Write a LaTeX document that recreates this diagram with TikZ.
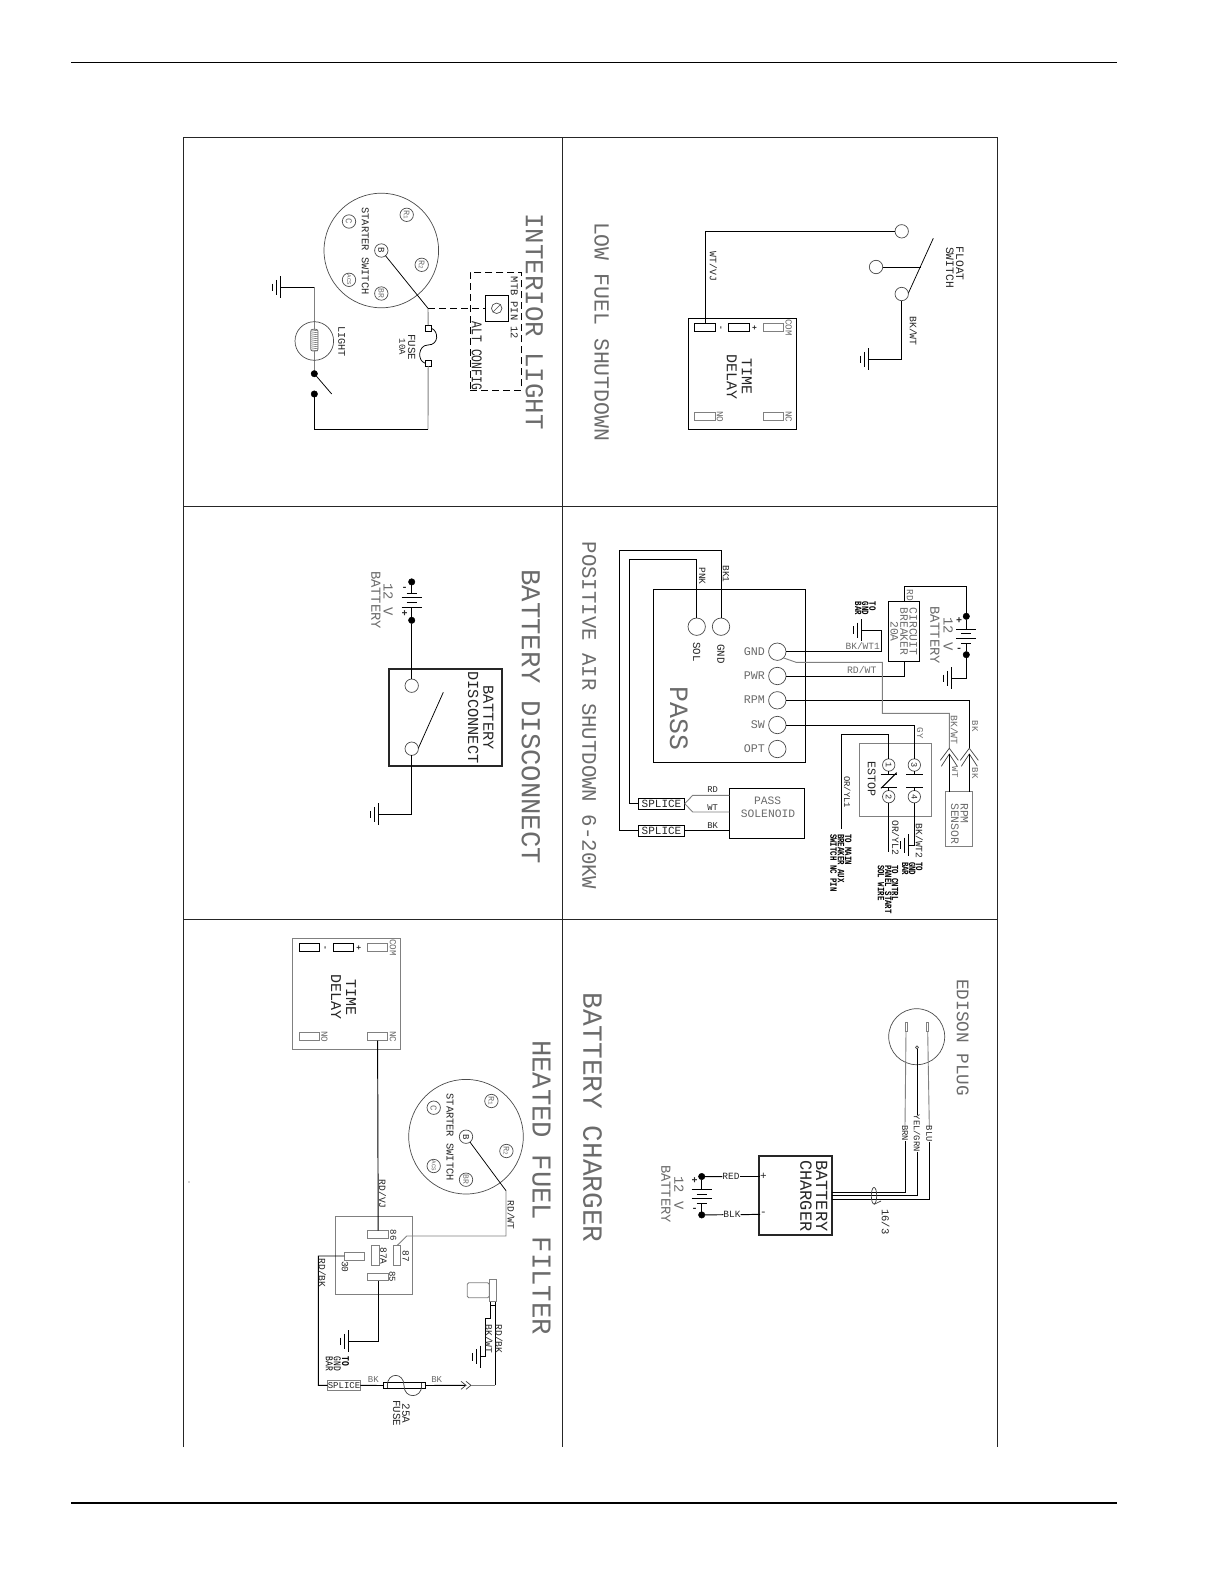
\documentclass[tikz,border=0pt]{standalone}
\usepackage{graphicx}
\usepackage{fontspec}
\setmainfont{Liberation Mono}
\usetikzlibrary{calc,shapes.geometric}
\colorlet{gw}{black!50}
\colorlet{tgray}{black!58}
\tikzset{
 x=1pt,y=-1pt,
 wire/.style={draw=black,line width=0.95pt},
 gwire/.style={draw=gw,line width=0.9pt},
 thinw/.style={draw=black!75,line width=0.7pt},
 dashwire/.style={draw=black,line width=0.95pt,dash pattern=on 7pt off 4pt},
 frameline/.style={draw=black!85,line width=1.1pt},
 rule/.style={draw=black,line width=1.7pt},
 vtxt/.style={rotate=-90,inner sep=0pt,outer sep=0pt,text depth=0pt},
 htxt/.style={inner sep=0pt,outer sep=0pt,text depth=0pt},
 term/.style={draw=black!70,circle,inner sep=0pt,outer sep=0pt,line width=0.7pt,fill=white},
 dotn/.style={draw=black,fill=black,circle,inner sep=0pt,outer sep=0pt,minimum size=6.5pt},
 boxn/.style={draw=black,rectangle,inner sep=0pt,outer sep=0pt,line width=0.95pt},
 gbox/.style={boxn,draw=gw,line width=0.85pt},
 tbox/.style={boxn,line width=1.7pt,draw=black!85},
}
\newcommand\FS[1]{\fontsize{#1}{#1}\selectfont}
\newcommand\TALL[1]{\scalebox{1}[1.3]{#1}}
% \VT[color]{name}{x}{y}{size}{text}: text reading downward
\newcommand\VT[6][black!85]{\node[vtxt,text=#1,font=\FS{#5}] (#2) at (#3,#4) {#6};}
\newcommand\HT[6][black!85]{\node[htxt,text=#1,font=\FS{#5}] (#2) at (#3,#4) {#6};}
\newcommand\BOX[6][boxn]{\node[#1,minimum width={((#5)-(#3))*1pt},minimum height={((#6)-(#4))*1pt}] (#2) at ({((#3)+(#5))/2},{((#4)+(#6))/2}) {};}
\newcommand\TERM[4]{\node[term,minimum size={2*(#4)*1pt}] (#1) at (#2,#3) {};}
\newcommand\GND[3]{\coordinate (#1) at (#2,#3);
 \draw[wire] ($(#1)+(0,-11)$) -- ($(#1)+(0,11)$);
 \draw[wire] ($(#1)+(-3.7,-7.5)$) -- ($(#1)+(-3.7,7.5)$);
 \draw[wire] ($(#1)+(-7.4,-3.8)$) -- ($(#1)+(-7.4,3.8)$);}
% \BATT{name}{x}{y of plus dot}{direction}
\newcommand\BATT[4]{
 \node[dotn] (#1p) at (#2,#3) {};
 \node[dotn] (#1m) at (#2,{#3+(#4)*38.4}) {};
 \coordinate (#1a) at (#2,{#3+(#4)*12.7});
 \coordinate (#1b) at (#2,{#3+(#4)*17.5});
 \coordinate (#1c) at (#2,{#3+(#4)*22.4});
 \coordinate (#1d) at (#2,{#3+(#4)*27});
 \draw[wire] (#1p) -- (#1a); \draw[wire] (#1m) -- (#1d);
 \draw[wire] ($(#1a)+(-10,0)$) -- ($(#1a)+(10,0)$);
 \draw[wire] ($(#1b)+(-5,0)$) -- ($(#1b)+(5,0)$);
 \draw[wire] ($(#1c)+(-10,0)$) -- ($(#1c)+(10,0)$);
 \draw[wire] ($(#1d)+(-5,0)$) -- ($(#1d)+(5,0)$);
 \HT{#1plus}{#2-7.2}{{#3+(#4)*(5.65-(#4)*1.35)}}{10}{\bfseries +}
 \HT{#1minus}{#2-7.2}{{#3+(#4)*(32.35+(#4)*1.35)}}{10}{\bfseries -}
}
\newcommand\STARTER[3]{
 \node[term,fill=none,minimum size=114.6pt] (#1big) at (#2,#3) {};
 \TERM{#1B}{#2}{#3}{6.7}\VT{#1Bt}{#2}{#3}{9}{B}
 \TERM{#1R1}{#2+25.4}{#3-35.7}{6.7}\VT[tgray]{#1R1t}{#2+25.4}{#3-35.7}{8.5}{R\FS{6}1}
 \TERM{#1R2}{#2+40.4}{#3+14.3}{6.7}\VT[tgray]{#1R2t}{#2+40.4}{#3+14.3}{8.5}{R\FS{6}2}
 \TERM{#1BR}{#2}{#3+43}{6.7}\VT[tgray]{#1BRt}{#2}{#3+43}{8}{BR}
 \TERM{#1A}{#2-32.3}{#3+29.3}{6.7}\VT[tgray]{#1At}{#2-32.3}{#3+29.3}{5.8}{ACS}
 \TERM{#1C}{#2-32.3}{#3-29}{6.7}\VT[tgray]{#1Ct}{#2-32.3}{#3-29}{9}{C}
 \VT{#1st}{#2-16}{#3+0.5}{10.4}{STARTER SWITCH}
}
% \TDELAY{name}{x}{y}{box style}
\newcommand\TDELAY[4]{
 \BOX[#4]{#1box}{#2}{#3}{#2+108}{#3+111}
 \BOX{#1neg}{#2+6.6}{#3+5.2}{#2+27}{#3+13.4}
 \BOX{#1pos}{#2+40.6}{#3+5.2}{#2+61}{#3+13.4}
 \BOX[gbox]{#1com}{#2+74.8}{#3+5.2}{#2+95}{#3+13.4}
 \BOX[gbox]{#1no}{#2+6.6}{#3+94.2}{#2+27}{#3+102.4}
 \BOX[gbox]{#1nc}{#2+74.8}{#3+94.2}{#2+95}{#3+102.4}
 \VT{#1l1}{#2+31.8}{#3+9.3}{8}{\bfseries -}
 \VT{#1l2}{#2+65.8}{#3+9.3}{8}{\bfseries +}
 \VT[tgray]{#1l3}{#2+100.3}{#3+9.3}{9.3}{COM}
 \VT[tgray]{#1l4}{#2+31.8}{#3+98.3}{9.3}{NO}
 \VT[tgray]{#1l5}{#2+100.3}{#3+98.3}{9.3}{NC}
 \VT{#1l6}{#2+58.4}{#3+58.7}{15}{TIME}
 \VT{#1l7}{#2+43.4}{#3+58.7}{15}{DELAY}
}
\newcommand\CHEV[3]{
 \draw[thinw] ($(#1,#2)+(-9,12)$) -- (#1,#2) -- ($(#1,#2)+(9,12)$);
 \draw[thinw] ($(#1,#2)+(-8,18)$) -- (#1,#2+#3) -- ($(#1,#2)+(8,18)$);}
\begin{document}
\begin{tikzpicture}
\useasboundingbox[fill=white] (0,0) rectangle (1224,1584);
% ---- page rules and frame
\coordinate (ruleTa) at (71,62.5); \coordinate (ruleTb) at (1117,62.5);
\coordinate (ruleBa) at (71,1503); \coordinate (ruleBb) at (1117,1503);
\draw[rule] (ruleTa) -- (ruleTb);
\draw[rule] (ruleBa) -- (ruleBb);
\coordinate (fA) at (183.5,1447); \coordinate (fB) at (183.5,137.5);
\coordinate (fC) at (997.5,137.5); \coordinate (fD) at (997.5,1447);
\draw[frameline] (fA) -- (fB) -- (fC) -- (fD);
\coordinate (fE) at (562.5,137.5); \coordinate (fF) at (562.5,1447);
\draw[frameline] (fE) -- (fF);
\coordinate (fG) at (183.5,506.5); \coordinate (fH) at (997.5,506.5);
\coordinate (fI) at (183.5,919.5); \coordinate (fJ) at (997.5,919.5);
\draw[frameline] (fG) -- (fH);
\draw[frameline] (fI) -- (fJ);
\node[circle,fill=black!70,inner sep=0pt,minimum size=1.3pt] (speck) at (189,1182) {};

% ---- INTERIOR LIGHT
\VT[tgray]{ilT}{534.5}{321.5}{25.8}{INTERIOR LIGHT}
\STARTER{ils}{381.3}{250.5}
\coordinate (ilj) at (428,308.3);
\draw[wire,line width=0.75pt] (ilsB) -- (ilj);
\BOX{ilfa}{425.2}{325.2}{431.2}{331.2}
\BOX{ilfb}{425.2}{360.2}{431.2}{366.2}
\draw[wire,line width=0.75pt] (ilfa.east) .. controls (439,331) and (439,345) .. (428,345) .. controls (418,345) and (417,361) .. (ilfb.west);
\draw[gwire] (ilj) -- (ilfa.north);
\coordinate (ilc) at (428,429.3);
\draw[gwire] (ilfb.south) -- (ilc);
\node[dotn] (ild1) at (314.3,373.7) {};
\node[dotn] (ild2) at (314.3,394) {};
\draw[wire] (ilc) -| (ild2);
\coordinate (ilsw) at (331.7,394);
\draw[wire,line width=0.75pt] (ild1) -- (ilsw);
\GND{ilg}{280}{287.3}
\coordinate (ilk) at (314.3,287.3);
\draw[gwire] (ild1) -- (ilk);
\draw[wire] (ilk) -- (ilg);
\node[term,fill=none,minimum size=38.6pt] (illamp) at (314.3,341) {};
\draw[black!60,line width=0.7pt,rounded corners=2pt,fill=white] (310.7,329.3) rectangle (318,351);
\foreach \i in {0,...,10}{\draw[black!60,line width=0.55pt] (310.9,{329.8+\i*2}) -- (317.8,{330.8+\i*2});}
\VT{ilL}{341.7}{341.3}{10.2}{LIGHT}
\VT{ilF1}{411.7}{347}{10.8}{FUSE}
\VT{ilF2}{402.3}{347}{9}{10A}
\BOX{ilmtb}{485.3}{295.3}{508.3}{321.3}
\node[term,minimum size=10.5pt] (ilscrew) at (496.7,308.3) {};
\draw[black!70,line width=0.6pt] (ilscrew.south west) -- (ilscrew.north east);
\draw[dashwire] (ilj) -- (ilmtb.west);
\BOX[boxn,dash pattern=on 7pt off 4pt]{ildash}{470.3}{272.3}{521.3}{390.3}
\VT{ilM}{514.3}{308}{10.4}{MTB PIN 12}
\VT{ilA}{476.8}{356}{11.4}{\TALL{ALT CONFIG}}

% ---- LOW FUEL SHUTDOWN
\VT[tgray]{lfT}{601.7}{331.7}{21.5}{LOW FUEL SHUTDOWN}
\TDELAY{lf}{688.3}{318.3}{boxn}
\TERM{lfc1}{901.7}{231.3}{6.7}
\TERM{lfc2}{876}{267}{6.7}
\TERM{lfc3}{901.7}{294}{6.7}
\draw[wire] (lfneg.north) |- (lfc1.west);
\coordinate (lfsa) at (908.3,293.3); \coordinate (lfsb) at (933.3,238.3); \coordinate (lfsc) at (920.7,267);
\draw[wire,line width=0.75pt] (lfsa) -- (lfsb);
\draw[wire] (lfc2.east) -- (lfsc);
\GND{lfg}{868.3}{359.3}
\draw[wire] (lfc3.south) |- (lfg);
\VT{lfW}{713.3}{266.7}{9.8}{WT/VJ}
\VT{lfB}{913.3}{331}{9.8}{BK/WT}
\VT{lfF1}{960}{263.7}{11.3}{FLOAT}
\VT{lfF2}{950}{267.5}{11.3}{SWITCH}

% ---- BATTERY DISCONNECT
\VT[tgray]{bdT}{531}{716.7}{27.3}{BATTERY DISCONNECT}
\BATT{bdb}{411.7}{620.3}{-1}
\BOX[tbox]{bdbox}{389}{668.7}{502}{766}
\TERM{bdc1}{411.7}{685.7}{6.7}
\TERM{bdc2}{411.7}{748.7}{6.7}
\draw[wire] (bdbp) -- (bdc1.north);
\coordinate (bdsa) at (418.3,748.3); \coordinate (bdsb) at (443.3,692.3);
\draw[wire,line width=0.75pt] (bdsa) -- (bdsb);
\GND{bdg}{378.3}{814.3}
\draw[wire] (bdc2.south) |- (bdg);
\VT[tgray]{bdV}{388.3}{599.7}{13.8}{12 V}
\VT[tgray]{bdB}{376}{600}{13.8}{BATTERY}
\VT{bdI1}{488.3}{717.5}{15.3}{BATTERY}
\VT{bdI2}{473.3}{717.5}{15.3}{DISCONNECT}

% ---- POSITIVE AIR SHUTDOWN
\VT[tgray]{paT}{589.3}{715.5}{20.7}{POSITIVE AIR SHUTDOWN 6-20KW}
\BOX{papass}{653.3}{589.3}{805.3}{762}
\VT[tgray]{paP}{679}{718.3}{26.5}{PASS}
\TERM{paSOL}{696.7}{626.7}{8.7}
\TERM{paGN}{721}{626.7}{8.7}
\VT{paSt}{696.7}{652}{10.8}{SOL}
\VT{paGt}{721}{654}{10.8}{GND}
\VT{paPn}{702.3}{576}{9.5}{PNK}
\VT{paBk}{726}{574}{9.5}{BK1}
\TERM{pa1}{777.3}{651.7}{8.7}
\TERM{pa2}{777.3}{676}{8.7}
\TERM{pa3}{777.3}{700.3}{8.7}
\TERM{pa4}{777.3}{725}{8.7}
\TERM{pa5}{777.3}{749}{8.7}
\node[htxt,anchor=east,text=tgray,font=\FS{11.7}] (pat1) at (765,651.5) {GND};
\node[htxt,anchor=east,text=tgray,font=\FS{11.7}] (pat2) at (765,676) {PWR};
\node[htxt,anchor=east,text=tgray,font=\FS{11.7}] (pat3) at (765,700) {RPM};
\node[htxt,anchor=east,text=tgray,font=\FS{11.7}] (pat4) at (765,725) {SW};
\node[htxt,anchor=east,text=tgray,font=\FS{11.7}] (pat5) at (765,749) {OPT};
\BOX{pasp1}{638.3}{798}{684.7}{809.3}
\BOX{pasp2}{638.3}{825}{684.7}{836}
\HT{pasp1t}{661.5}{803.7}{11}{SPLICE}
\HT{pasp2t}{661.5}{830.5}{11}{SPLICE}
\BOX{pasol}{729.3}{788.3}{804.3}{838.3}
\HT[tgray]{paSa}{767.7}{801}{11.3}{PASS}
\HT[tgray]{paSb}{768}{813.3}{11.3}{SOLENOID}
\coordinate (paa) at (721,550.7); \coordinate (pab) at (619.3,550.7);
\draw[wire] (paGN.north) -- (paa) -- (pab) |- (pasp2.west);
\coordinate (pac) at (696.7,559.3); \coordinate (pad) at (629.3,559.3);
\draw[wire] (paSOL.north) -- (pac) -- (pad) |- (pasp1.west);
\coordinate (pae) at (692.7,795.3); \coordinate (paf) at (692.7,812);
\coordinate (pag) at (729.3,795.3); \coordinate (pah) at (729.3,812);
\draw[gwire] (pasp1.east) -- (pae) -- (pag);
\draw[gwire] (pasp1.east) -- (paf) -- (pah);
\draw[wire] (pasp2.east) -- (pasp2.east -| pasol.west);
\HT{paRD}{712.7}{790}{8.8}{RD}
\HT{paWT}{712.7}{807.7}{8.8}{WT}
\HT{paBK}{712.7}{825.3}{8.8}{BK}
% breaker, battery
\BOX{pacb}{888.7}{601.3}{919.3}{661.3}
\VT[tgray]{pacb1}{913.3}{631.5}{11.3}{CIRCUIT}
\VT[tgray]{pacb2}{904}{631.5}{11.3}{BREAKER}
\VT[tgray]{pacb3}{894.3}{631.5}{11.3}{20A}
\VT[tgray]{paRDl}{910}{595}{9.5}{RD}
\BATT{pbt}{966.3}{616.3}{1}
\VT[tgray]{paV}{948.3}{634}{13.8}{12 V}
\VT[tgray]{paBa}{935}{635}{13.8}{BATTERY}
\coordinate (pai) at (904.3,586.3); \coordinate (paj) at (966.3,586.3);
\draw[wire] (pacb.north -| pai) -- (pai) -- (paj) -- (pbtp);
\GND{pag1}{951}{678.3}
\draw[wire] (pbtm) |- (pag1);
\coordinate (pak) at (881.7,651.7); \coordinate (pal) at (881.7,630);
\GND{pag2}{861}{630}
\draw[wire] (pa1.east) -- (pak) -- (pal) -- (pag2);
\HT[tgray]{paBW}{862.7}{646.3}{9.5}{BK/WT1}
\node[vtxt,anchor=west,font=\FS{7.4}\bfseries] (pato1) at (872.7,601.7) {\TALL{TO}};
\node[vtxt,anchor=west,font=\FS{7.4}\bfseries] (pato2) at (865.3,601.7) {\TALL{GND}};
\node[vtxt,anchor=west,font=\FS{7.4}\bfseries] (pato3) at (858.3,601.7) {\TALL{BAR}};
\coordinate (pam) at (904.3,676);
\draw[wire] (pa2.east) -- (pam) -- (pam |- pacb.south);
\HT[tgray]{paRW}{861.7}{670.3}{9.8}{RD/WT}
\coordinate (pan) at (969.3,700.3);
\draw[wire] (pa3.east) -- (pan) -- (969.3,748.3);
\coordinate (pao) at (796,662.3); \coordinate (pap) at (882.3,662.3);
\coordinate (paq) at (882.3,713.3); \coordinate (par) at (949.3,713.3);
\draw[gwire] (pa1.south east) -- (pao) -- (pap) -- (paq) -- (par) -- (949.3,748.3);
\CHEV{949.3}{748.3}{5.7}
\CHEV{969.3}{748.3}{5.7}
\VT[tgray]{pal1}{954.3}{730}{9.8}{BK/WT}
\VT[tgray]{pal2}{975}{726}{9}{BK}
\VT[tgray]{pal3}{955}{772}{9}{WT}
\VT[tgray]{pal4}{975}{773}{9}{BK}
\BOX[gbox]{parpm}{945.3}{791.7}{972.3}{846}
\node[vtxt,anchor=west,text=tgray,font=\FS{11.4}] (parp1) at (964.3,803.3) {RPM};
\node[vtxt,anchor=west,text=tgray,font=\FS{11.4}] (parp2) at (955,803.3) {SENSOR};
\coordinate (pas) at (949.3,754); \coordinate (pat) at (969.3,754);
\draw[wire] (pas) -- (pas |- parpm.north);
\draw[wire] (pat) -- (pat |- parpm.north);
\BOX[gbox]{paest}{859.3}{743.3}{931}{816.7}
\VT{paE}{871.7}{779}{11.6}{ESTOP}
\TERM{pae3}{914.3}{765}{6.2}\VT{pae3t}{914.3}{765}{8.5}{3}
\TERM{pae4}{914.3}{796.7}{6.2}\VT{pae4t}{914.3}{796.7}{8.5}{4}
\TERM{pae1}{888.7}{765}{6.2}\VT{pae1t}{888.7}{765}{8.5}{1}
\TERM{pae2}{888.7}{796.7}{6.2}\VT{pae2t}{888.7}{796.7}{8.5}{2}
\coordinate (pau) at (914.3,725);
\draw[wire] (pa4.east) -- (pau) -- (pae3.north);
\VT[tgray]{paGY}{920}{733}{9}{GY}
\coordinate (pp3) at (914.3,774); \coordinate (pp4) at (914.3,787.3);
\draw[wire] (pae3.south) -- (pp3); \draw[wire] (pae4.north) -- (pp4);
\draw[wire] ($(pp3)+(-8.3,0)$) -- ($(pp3)+(8.3,0)$);
\draw[wire] ($(pp4)+(-8.3,0)$) -- ($(pp4)+(8.3,0)$);
\coordinate (pp1) at (888.7,774); \coordinate (pp2) at (888.7,787.3);
\draw[wire] (pae1.south) -- (pp1); \draw[wire] (pae2.north) -- (pp2);
\draw[wire] ($(pp1)+(-8,0)$) -- ($(pp1)+(8,0)$);
\draw[wire] ($(pp2)+(-8,0)$) -- ($(pp2)+(8,0)$);
\coordinate (ppa) at (896.7,772.7); \coordinate (ppb) at (881,788.3);
\draw[wire] (ppa) -- (ppb);
\coordinate (pav) at (888.7,734.3); \coordinate (paw) at (841.3,734.3); \coordinate (pax) at (841.3,829.3);
\draw[wire] (pae1.north) -- (pav) -- (paw) -- (pax);
\VT{paOY1}{847.3}{792}{8.8}{OR/YL1}
\node[vtxt,anchor=west,font=\FS{7.4}\bfseries] (pam1) at (848.3,834) {\TALL{TO MAIN}};
\node[vtxt,anchor=west,font=\FS{7.4}\bfseries] (pam2) at (841,834) {\TALL{BREAKER AUX}};
\node[vtxt,anchor=west,font=\FS{7.4}\bfseries] (pam3) at (833.7,834) {\TALL{SWITCH NC PIN}};
\coordinate (pay) at (888.7,851.7);
\draw[wire] (pae2.south) -- (pay);
\VT{paOY2}{895.7}{837.7}{9.7}{OR/YL2}
\node[vtxt,anchor=west,font=\FS{7.4}\bfseries] (pac1) at (895,865) {\TALL{TO CNTRL}};
\node[vtxt,anchor=west,font=\FS{7.4}\bfseries] (pac2) at (888.3,865) {\TALL{PANEL START}};
\node[vtxt,anchor=west,font=\FS{7.4}\bfseries] (pac3) at (881,865) {\TALL{SOL WIRE}};
\GND{pag3}{908.3}{845}
\draw[wire] (pae4.south) |- (pag3);
\VT{paBW2}{919.3}{841}{9.7}{BK/WT2}
\node[vtxt,anchor=west,font=\FS{7.4}\bfseries] (pat4a) at (919.3,862) {\TALL{TO}};
\node[vtxt,anchor=west,font=\FS{7.4}\bfseries] (pat4b) at (912.3,862) {\TALL{GND}};
\node[vtxt,anchor=west,font=\FS{7.4}\bfseries] (pat4c) at (905.3,862) {\TALL{BAR}};

% ---- HEATED FUEL FILTER
\VT[tgray]{hfT}{541.7}{1187.5}{27.3}{HEATED FUEL FILTER}
\TDELAY{hf}{292.7}{938.3}{gbox}
\STARTER{hfs}{466}{1136.7}
\coordinate (hfa) at (506,1190.7); \coordinate (hfb) at (506,1236);
\coordinate (hfc) at (406.7,1236); \coordinate (hfd) at (397.3,1245.3);
\draw[wire,line width=0.75pt] (hfsB) -- (hfa);
\draw[gwire] (hfa) -- (hfb) -- (hfc) -- (hfd);
\BOX[gbox]{hfr}{335.3}{1216.7}{412.3}{1294.7}
\BOX[gbox]{hf86}{367.7}{1230.7}{388.7}{1238.7}
\BOX[gbox]{hf87a}{371.3}{1245.3}{379}{1265.7}
\BOX[gbox]{hf87}{393}{1245.3}{400.7}{1265.7}
\BOX[gbox]{hf30}{344.3}{1252}{364.7}{1260}
\BOX[gbox]{hf85}{367.7}{1273.3}{388.7}{1280.7}
\VT{hfn86}{393.3}{1235}{9}{86}
\VT{hfn87a}{383.5}{1256}{9.5}{87A}
\VT{hfn87}{405.7}{1256}{9.5}{87}
\VT{hfn30}{345}{1266.7}{9.5}{30}
\VT{hfn85}{392.3}{1276.7}{9}{85}
\draw[wire] (hfnc.south) -- (hf86.north);
\VT{hfRY}{382.7}{1194.3}{9.6}{RD/VJ}
\VT{hfRW}{511}{1215}{9.6}{RD/WT}
\coordinate (hfg0) at (318.3,1256); \coordinate (hfg1) at (318.3,1385.3);
\BOX[gbox]{hfsp}{327.7}{1380}{360.3}{1390.7}
\HT{hfspt}{344}{1385.3}{9}{SPLICE}
\draw[wire] (hf30.west) -- (hfg0) -- (hfg1) -- (hfsp.west);
\VT{hfRB}{322.3}{1273}{9.6}{RD/BK}
\BOX{hffuse}{383.3}{1382.7}{425.7}{1388.3}
\draw[wire] (hfsp.east) -- (hffuse.west);
\coordinate (hfu1) at (387.3,1385.5); \coordinate (hfu2) at (421.7,1385.5);
\draw[thinw] (hfu1 |- hffuse.north) -- (hfu1 |- hffuse.south);
\draw[thinw] (hfu2 |- hffuse.north) -- (hfu2 |- hffuse.south);
\draw[thinw] (hfu1) .. controls (387.3,1372) and (404,1372) .. (404,1385.5) .. controls (404,1399) and (421.7,1399) .. (hfu2);
\HT[tgray]{hfBK1}{373.3}{1379.3}{9}{BK}
\HT[tgray]{hfBK2}{436.7}{1379.3}{9}{BK}
\VT{hfF1}{406}{1413.3}{11}{25A}
\VT{hfF2}{396.7}{1413}{10.8}{FUSE}
\coordinate (hfh) at (466,1385.3);
\draw[wire] (hffuse.east) -- (hfh);
\coordinate (hfch1) at (466,1385.3); \coordinate (hfch2) at (471,1385.3);
\draw[thinw] ($(hfch1)+(-5,-4)$) -- (hfch1) -- ($(hfch1)+(-5,4)$);
\draw[thinw] ($(hfch2)+(-5,-4)$) -- (hfch2) -- ($(hfch2)+(-5,4)$);
\coordinate (hfi) at (495.3,1385.3);
\BOX{hfq}{490.3}{1301.3}{495.7}{1305.3}
\draw[gwire] (hfch2) -- (hfi);
\draw[wire] (hfi) -- (hfi |- hfq.south);
\BOX[gbox]{hfp1}{489.3}{1279.3}{496.7}{1301.3}
\BOX[gbox,rounded corners=1.5pt]{hfp2}{467.3}{1282.7}{489.3}{1297.7}
\coordinate (hfj) at (490.3,1318.3); \coordinate (hfk) at (485.3,1318.3); \coordinate (hfl) at (485.3,1356.7);
\GND{hfg2}{480}{1356.7}
\draw[wire] (hfq.south west) -- (hfj) -- (hfk) -- (hfl) -- (hfg2);
\VT{hfBW}{489}{1339}{9.6}{BK/WT}
\VT{hfRB2}{499}{1339}{9.6}{RD/BK}
\GND{hfg3}{348.3}{1341.3}
\draw[wire] (hf85.south) |- (hfg3);
\node[vtxt,anchor=west,font=\FS{8}\bfseries] (hfw3) at (345.7,1356.7) {\TALL{TO}};
\node[vtxt,anchor=west,font=\FS{8}] (hfw4) at (337.3,1356.7) {\TALL{GND}};
\node[vtxt,anchor=west,font=\FS{8}] (hfw5) at (329.3,1356.7) {\TALL{BAR}};

% ---- BATTERY CHARGER
\VT[tgray]{bcT}{592.7}{1117.5}{27.8}{BATTERY CHARGER}
\VT[tgray]{bcE}{962.7}{1037.6}{17.7}{EDISON PLUG}
\node[term,fill=none,minimum size=56pt] (bcplug) at (916.7,1036.7) {};
\BOX[gbox]{bcp1}{905}{1022}{907}{1031.7}
\BOX[gbox]{bcp2}{926.7}{1022}{928.7}{1031.7}
\node[term,minimum size=3pt] (bcp3) at (917,1047.3) {};
\BOX[tbox]{bcbox}{759}{1156}{832.3}{1235}
\VT{bcB1}{821.7}{1195.8}{17}{BATTERY}
\VT{bcB2}{806}{1195.8}{17}{CHARGER}
\VT{bcl1}{905}{1133.3}{8.8}{BRN}
\VT{bcl2}{917}{1133.3}{8.8}{YEL/GRN}
\VT{bcl3}{929.3}{1133.7}{8.8}{BLU}
\coordinate (bcw1) at (905,1192.3); \coordinate (bcw2) at (917,1195.7); \coordinate (bcw3) at (929.3,1199);
\draw[gwire] (bcp1.south) -- (bcl1.west);
\draw[wire] (bcp3.south) -- (bcl2.west);
\draw[gwire] (bcp2.south) -- (bcl3.west);
\draw[wire] (bcl1.east) -- (bcw1) -- (bcw1 -| bcbox.east);
\draw[wire] (bcl2.east) -- (bcw2) -- (bcw2 -| bcbox.east);
\draw[wire] (bcl3.east) -- (bcw3) -- (bcw3 -| bcbox.east);
\node[draw=black!75,ellipse,inner sep=0pt,minimum width=5.4pt,minimum height=16.6pt,line width=0.7pt] (bcloop) at (874,1195.7) {};
\coordinate (bctl) at (881,1201);
\draw[thinw] (bcloop.south) -- (bctl);
\VT{bc16}{885.7}{1221.7}{10.5}{16/3}
\HT{bcpl}{763.3}{1176.7}{11}{+}
\HT{bcmn}{763.3}{1214.3}{11}{-}
\BATT{bcb}{701.7}{1176.5}{1}
\HT{bcRED}{731}{1176.7}{9.5}{RED}
\HT{bcBLK}{732}{1214.7}{9.5}{BLK}
\draw[wire] (bcbp) -- (bcRED.west);
\draw[wire] (bcRED.east) -- (bcpl.west -| bcbox.west) -- (bcpl.west);
\draw[wire] (bcbm) -- (bcBLK.west);
\draw[wire] (bcBLK.east) -- (bcmn.west -| bcbox.west) -- (bcmn.west);
\VT[tgray]{bcV}{679}{1193}{13.8}{12 V}
\VT[tgray]{bcBt}{666}{1194}{13.8}{BATTERY}
\end{tikzpicture}
\end{document}
